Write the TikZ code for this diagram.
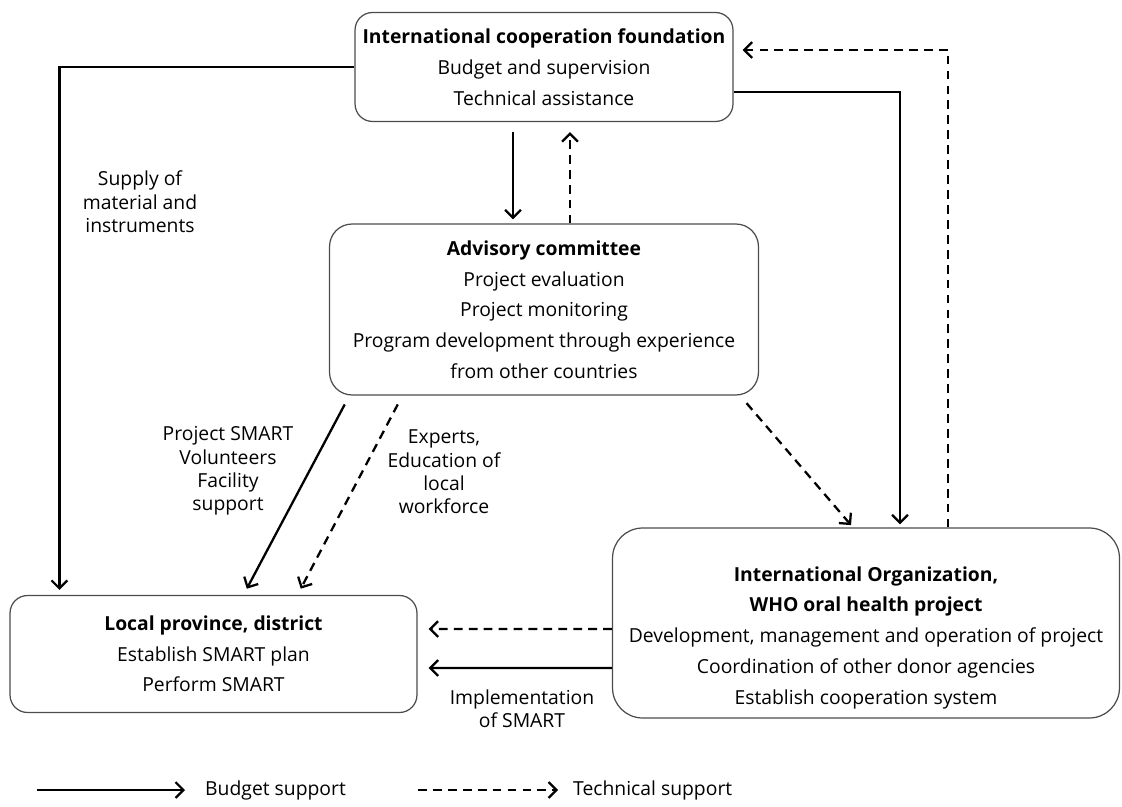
\documentclass[tikz,border=0pt]{standalone}
\usepackage{fontspec}
\setmainfont{Open Sans}
\usetikzlibrary{arrows.meta}

\begin{document}
\begin{tikzpicture}[x=0.02cm, y=-0.02cm,
	box node/.style={draw=black!70, line width=0.7pt, rounded corners=0.35cm, align=center,
		font=\fontsize{11}{17.5}\selectfont},
	label node/.style={align=center, font=\fontsize{11}{13.3}\selectfont},
	budget/.style={line width=1.3pt, -{Straight Barb[length=4.5pt,width=9pt]}},
	tech/.style={budget, dash pattern=on 5pt off 3.5pt}]
	
	\useasboundingbox (0,0) rectangle (1122,807);
	
	% boxes
	\node[box node, minimum width=7.56cm, minimum height=2.18cm] (icf) at (544,67)
		{\textbf{International cooperation foundation}\\Budget and supervision\\Technical assistance};
	\node[box node, minimum width=8.58cm, minimum height=3.42cm, rounded corners=0.45cm] (adv) at (544,309.5)
		{\textbf{Advisory committee}\\Project evaluation\\Project monitoring\\Program development through experience\\from other countries};
	\node[box node, minimum width=8.14cm, minimum height=2.34cm] (local) at (213.5,654)
		{\textbf{Local province, district}\\Establish SMART plan\\Perform SMART};
	\node[box node, minimum width=10.14cm, minimum height=3.8cm, rounded corners=0.6cm] (who) at (866,623)
		{\rule{0pt}{25pt}\textbf{International Organization,}\\\textbf{WHO oral health project}\\Development, management and operation of project\\Coordination of other donor agencies\\Establish cooperation system};
	
	% connectors
	\draw[budget, shorten >=0.1cm] (icf.west) -| ([xshift=1cm]local.north west);
	\draw[budget, shorten <=0.2cm, shorten >=0.08cm] ([xshift=-0.62cm]icf.south) -- ([xshift=-0.62cm]adv.north);
	\draw[tech, shorten >=0.2cm] ([xshift=0.52cm]adv.north) -- ([xshift=0.52cm]icf.south);
	\draw[budget, shorten >=0.06cm] ([yshift=-0.5cm]icf.east) -| ([xshift=0.68cm]who.north);
	\draw[tech, shorten >=0.18cm] ([xshift=1.64cm]who.north) |- ([yshift=0.34cm]icf.east);
	\draw[budget, shorten <=0.2cm, shorten >=0.14cm] ([xshift=0.41cm]adv.south west) -- ([xshift=0.6cm]local.north);
	\draw[tech, shorten <=0.2cm, shorten >=0.14cm] ([xshift=1.47cm]adv.south west) -- ([xshift=1.68cm]local.north);
	\draw[tech, shorten <=0.2cm, shorten >=0.06cm] ([xshift=-0.38cm]adv.south east) -- ([xshift=-0.26cm]who.north);
	\draw[tech, shorten >=0.22cm] ([yshift=-0.12cm]who.west) -- ([yshift=0.5cm]local.east);
	\draw[budget, shorten >=0.22cm] ([yshift=-0.9cm]who.west) -- ([yshift=-0.28cm]local.east);
	
	% labels
	\node[label node] (supply) at (140,202) {Supply of\\material and\\instruments};
	\node[label node] (smart) at (228,471) {Project SMART\\Volunteers\\Facility\\support};
	\node[label node] (experts) at (444,472) {Experts,\\Education of\\local\\workforce};
	\node[label node] (impl) at (522,709) {Implementation\\of SMART};
	
	% legend
	\coordinate (lb) at (37,790);
	\node[label node, anchor=west] (lbudget) at (199,790) {Budget support};
	\draw[budget, shorten >=0.28cm] (lb) -- (lbudget.west);
	\coordinate (lt) at (418,790);
	\node[label node, anchor=west] (ltech) at (567,790) {Technical support};
	\draw[tech, shorten >=0.18cm] (lt) -- (ltech.west);
\end{tikzpicture}
\end{document}
